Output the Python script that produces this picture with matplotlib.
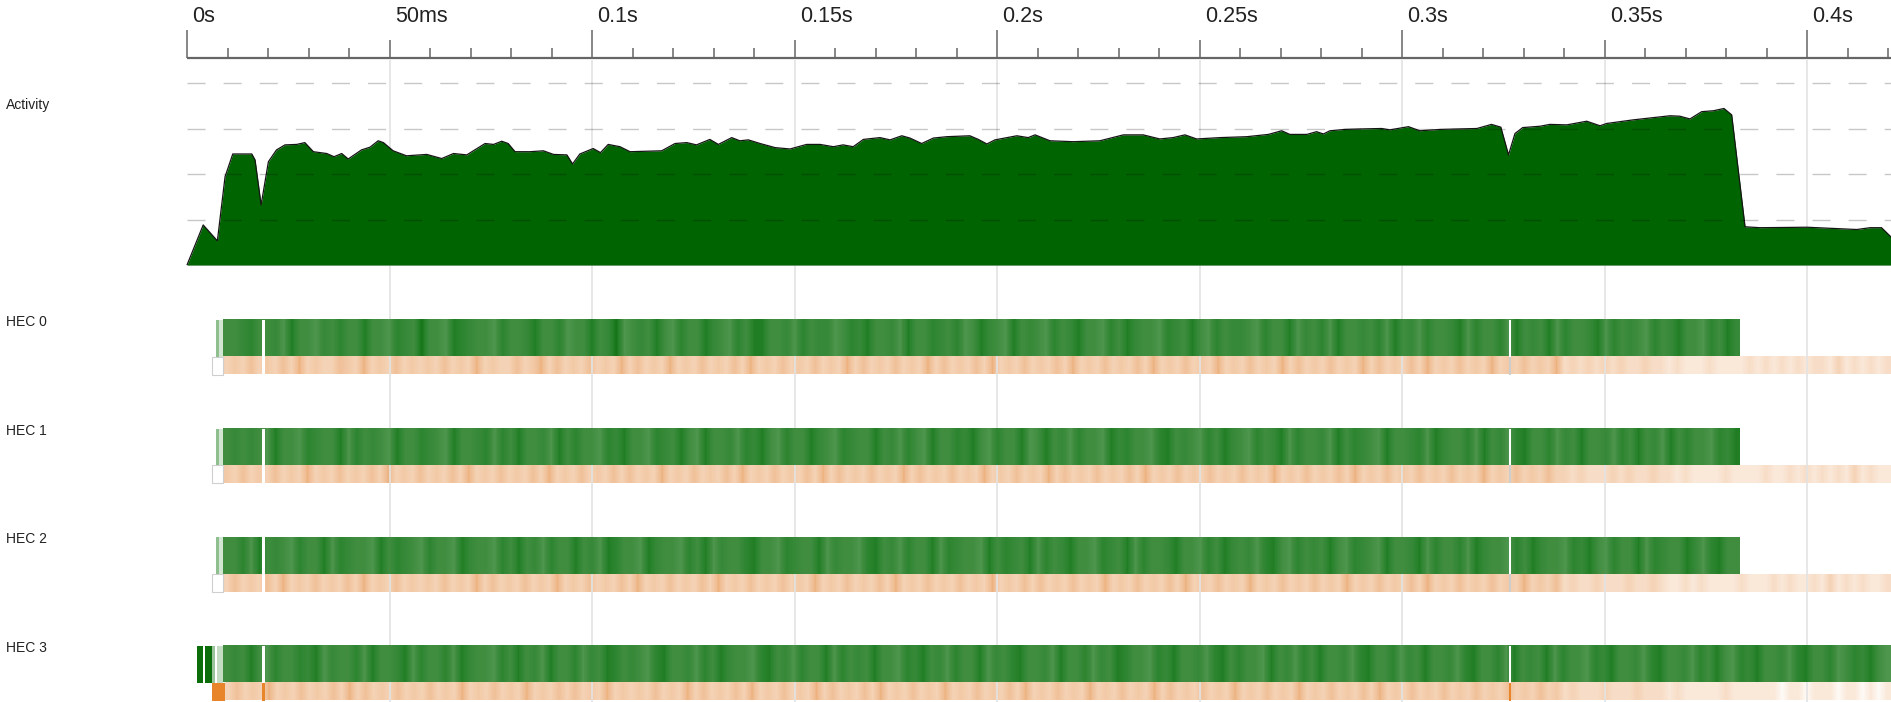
import numpy as np
import matplotlib
matplotlib.use("Agg")
import matplotlib.pyplot as plt
from matplotlib.colors import LinearSegmentedColormap
from matplotlib.patches import Rectangle

plt.rcParams['font.family'] = ['Liberation Sans', 'DejaVu Sans']

# ---- data ----
tick_times = [0.0, 0.05, 0.1, 0.15, 0.2, 0.25, 0.3, 0.35, 0.4]
tick_labels = ["0s", "50ms", "0.1s", "0.15s", "0.2s", "0.25s", "0.3s", "0.35s", "0.4s"]

# activity (ms, number of busy HECs)
act_ms = [0.0, 4.0, 7.5, 9.4, 11.3, 16.0, 16.8, 18.3, 20.1, 22.1, 24.2, 27.1, 29.1, 31.2,
          34.5, 36.3, 38.2, 39.8, 43.1, 45.2, 47.2, 48.5, 50.9, 54.2, 59.2, 62.9, 65.8,
          69.1, 70.7, 73.6, 75.7, 77.7, 79.3, 81.0, 84.7, 88.0, 90.5, 93.8, 95.2, 97.0,
          100.3, 102.1, 104.0, 106.9, 109.4, 117.2, 120.5, 123.4, 125.8, 129.1, 131.2,
          134.5, 136.5, 138.6, 141.5, 145.2, 148.9, 153.0, 156.3, 159.6, 162.0, 164.5,
          167.0, 171.1, 173.6, 176.5, 178.5, 181.4, 184.3, 187.6, 193.3, 195.4, 197.5,
          199.5, 204.9, 207.7, 209.4, 213.1, 218.8, 225.4, 231.2, 236.1, 240.2, 243.5,
          246.4, 249.3, 255.1, 261.7, 267.0, 270.3, 272.3, 276.5, 278.9, 280.6, 282.2,
          285.9, 289.6, 295.0, 297.0, 301.6, 304.4, 309.4, 318.5, 322.1, 324.4, 326.3,
          327.9, 329.8, 334.1, 336.5, 340.7, 345.6, 348.9, 350.5, 357.1, 362.1, 366.2,
          368.6, 371.1, 374.0, 376.9, 379.5, 381.4, 384.7, 388.4, 400.0, 412.3, 415.6,
          418.4, 420.7]
act_val = [0.0, 0.88, 0.53, 1.94, 2.44, 2.44, 2.31, 1.32, 2.27, 2.53, 2.64, 2.65, 2.69, 2.49,
           2.45, 2.38, 2.45, 2.33, 2.53, 2.59, 2.73, 2.69, 2.51, 2.40, 2.43, 2.34, 2.45,
           2.42, 2.51, 2.67, 2.65, 2.72, 2.67, 2.49, 2.49, 2.51, 2.43, 2.42, 2.22, 2.44,
           2.56, 2.47, 2.65, 2.60, 2.49, 2.51, 2.67, 2.69, 2.64, 2.76, 2.65,
           2.80, 2.73, 2.75, 2.67, 2.58, 2.55, 2.65, 2.65, 2.60, 2.64, 2.60,
           2.76, 2.80, 2.75, 2.84, 2.79, 2.67, 2.79, 2.82, 2.84, 2.76, 2.66,
           2.75, 2.84, 2.80, 2.86, 2.73, 2.71, 2.73, 2.86, 2.86, 2.77, 2.80,
           2.86, 2.77, 2.80, 2.82, 2.87, 2.95, 2.87, 2.87, 2.93, 2.88, 2.95,
           2.98, 2.99, 3.00, 2.97, 3.04, 2.95, 2.98, 3.00, 3.09, 3.03, 2.42,
           2.89, 3.02, 3.05, 3.09, 3.08, 3.16, 3.06, 3.11, 3.19, 3.24, 3.28,
           3.27, 3.21, 3.37, 3.39, 3.44, 3.30, 0.84, 0.82, 0.83, 0.78, 0.82,
           0.82, 0.62]

hec_names = ["HEC 0", "HEC 1", "HEC 2", "HEC 3"]
green_start = [0.0089, 0.0089, 0.0089, 0.0089]
green_end = [0.3833, 0.3833, 0.3833, 0.4207]
orange_start = [0.0089, 0.0089, 0.0089, 0.0094]
orange_end = [0.4207, 0.4207, 0.4207, 0.4207]

# running intensity per ~2ms, 0 = light .. 9 = dark
green_runs = [
    "4456445374435464474436548" "4437654436445744634474583" "4547436447543647744536455"
    "3465744537446546347543745" "4364574436475443654743645" "5436447354637445463745364"
    "4573644637454736445736454" "364574436475",
    "4545437443654473645437446" "5437445636474453746443657" "4436547437445365743644754"
    "3654474536437446574364473" "4745364437564436745436475" "4364573644537465437445637"
    "5446374536744635474453647" "453746443657",
    "4463745436447365443746543" "6443754436474536447453764" "4375443647354467443654473"
    "5443674536447365443746547" "3645744365473644574436475" "4536743645474365437445736"
    "4463754436475443657436447" "365447536744",
    "4547436446573544637445736" "4463754436474537446354764" "5436744536475443674536447"
    "3645474436574536447354674" "4537446354764436574453674" "6443745364744536744635474"
    "4536744637454736443657445" "3674453647436574453674463" "465743",
]
# GC / idle intensity per ~2ms, 0 = none .. 9 = heavy
orange_runs = [
    "3435343536343354363435343" "4353436343353463534353436" "3534363435343536343534353"
    "4363534353436353435363435" "3435363435343536343534363" "4353436353435343635343536"
    "3435343634353436" "2323232322322" "1211121111212" "121212213121212",
    "4353435343634353435363435" "3435363435343536343534353" "5343634353435363435343536"
    "3534353436353435343634353" "4363534353435363435343534" "3534363435343536343534353"
    "4353436343534353" "3232223232232" "2121111211112" "112121212131211",
    "3534353634353435363435343" "4353436353435343634353435" "3634353435363435343534363"
    "4353435363435343534363435" "3534353436343534353634353" "4363435343534363435343536"
    "3435343534363435" "2322322232232" "1121211112111" "212112131212112",
    "3534363435343536353435343" "5343634353436343535343634" "3435343635343536343534363"
    "5343536343534363435343536" "3435343634353436353435343" "6343534363435343536343534"
    "3534353435343534" "2322232223222" "1211111211111" "101101110110101",
]
# short start-up pieces before the steady stripes (start, end)
early_green = [
    [(0.0072, 0.0078), (0.0078, 0.0089)],
    [(0.0072, 0.0078), (0.0078, 0.0089)],
    [(0.0072, 0.0078), (0.0078, 0.0089)],
    [(0.0024, 0.0040), (0.0044, 0.0061), (0.0061, 0.0068), (0.0073, 0.0089)],
]
early_green_col = [
    ["#8fbf8f", "#d3e5d3"], ["#8fbf8f", "#d3e5d3"], ["#8fbf8f", "#d3e5d3"],
    ["#0b6e0b", "#0b6e0b", "#9cc49c", "#c4dcc4"],
]
orange_pre = [0.0061, 0.0061, 0.0061, 0.0061]
gap_starts = [0.0185, 0.3263]
gap_widths = [0.0008, 0.0006]

# ---- layout (pixels) ----
W, H = 1891, 702
PX = 4050.0          # pixels per second
X0 = -187 / PX
X1 = (W - 187) / PX
AXIS_Y = 58
track_tops = [320, 428.7, 537.3, 646]
GH, OH = 36.5, 18

gcmap = LinearSegmentedColormap.from_list(
    "g", [(0, "#9cc79c"), (0.2, "#5ea15e"), (0.45, "#408d40"), (0.7, "#2a842e"), (1, "#0a6c0a")])
ocmap = LinearSegmentedColormap.from_list(
    "o", [(0, "#fefaf6"), (0.12, "#fae7d7"), (0.33, "#f5d3b6"), (0.6, "#efbd93"), (1, "#e47a1a")])

fig = plt.figure(figsize=(W / 100, H / 100), dpi=100)
ax = fig.add_axes([0, 0, 1, 1])

# 50ms grid lines through everything (none at 0s)
ax.vlines(tick_times[1:], AXIS_Y + 2, H, colors="#e3e3e3", lw=1.2, zorder=2)

# time ruler
ax.hlines(AXIS_Y, 0, X1, colors="#666666", lw=1.6, zorder=5)
for k in range(0, 421, 10):
    top = 30 if k % 100 == 0 else (40 if k % 50 == 0 else 48)
    ax.vlines(k / 1000, top, AXIS_Y, colors="#666666", lw=1.1, zorder=5)
for t, lab in zip(tick_times, tick_labels):
    ax.annotate(lab, (t, 17), xytext=(3.8, 0), textcoords="offset points",
                ha="left", va="center", fontsize=15.5, color="#222222")

# HEC tracks
for i, top in enumerate(track_tops):
    g = np.array([int(c) for c in green_runs[i]])[None, :]
    o = np.array([int(c) for c in orange_runs[i]])[None, :]
    ax.imshow(g, cmap=gcmap, vmin=0, vmax=9, aspect="auto", interpolation="bilinear",
              extent=(green_start[i], green_end[i], top + GH, top), zorder=3)
    ax.imshow(o, cmap=ocmap, vmin=0, vmax=9, aspect="auto", interpolation="bilinear",
              extent=(orange_start[i], orange_end[i], top + GH + OH, top + GH), zorder=1)
    for (a, b), c in zip(early_green[i], early_green_col[i]):
        ax.add_patch(Rectangle((a, top), b - a, GH, color=c, lw=0, zorder=3))
    if i < 3:
        ax.add_patch(Rectangle((orange_pre[i], top + GH), orange_start[i] - orange_pre[i], OH,
                               facecolor="white", edgecolor="#cfcfcf", lw=0.8, zorder=1.5))
    else:
        ax.add_patch(Rectangle((orange_pre[i], top + GH), orange_start[i] - orange_pre[i], OH,
                               color="#e8842a", lw=0, zorder=1.5))
    for gs, gw in zip(gap_starts, gap_widths):
        ax.add_patch(Rectangle((gs, top), gw, GH, color="white", lw=0, zorder=4))
        if i < 3:
            oc = "white" if gs < 0.1 else "#cdcdcd"
        else:
            oc = "#e8842a"
        ax.add_patch(Rectangle((gs, top + GH), gw, OH, color=oc, lw=0, zorder=1.6))
    fig.text(6 / W, 1 - (top + 2) / H, hec_names[i], fontsize=10, va="center", ha="left",
             color="#222222")

ax.set_xlim(X0, X1)
ax.set_ylim(H, 0)
ax.axis("off")

# activity profile
aa = fig.add_axes([0, (H - 265) / H, 1, (265 - 83) / H])
t_act = np.array(act_ms) / 1000
aa.fill_between(t_act, act_val, 0, color="#006400", lw=0, zorder=2)
aa.plot(t_act, act_val, color="#151515", lw=0.9, zorder=3)
aa.hlines([1, 2, 3, 4], 0, X1, colors="black", alpha=0.22, lw=1.0,
          linestyles=(0, (13, 13)), zorder=4, clip_on=False)
aa.hlines(0, 0, X1, colors="#c8c8c8", lw=1.2, zorder=1, clip_on=False)
aa.set_xlim(X0, X1)
aa.set_ylim(0, 4)
aa.axis("off")
fig.text(6 / W, 1 - 105 / H, "Activity", fontsize=10, va="center", ha="left", color="#222222")

fig.savefig("out.png", dpi=100)
